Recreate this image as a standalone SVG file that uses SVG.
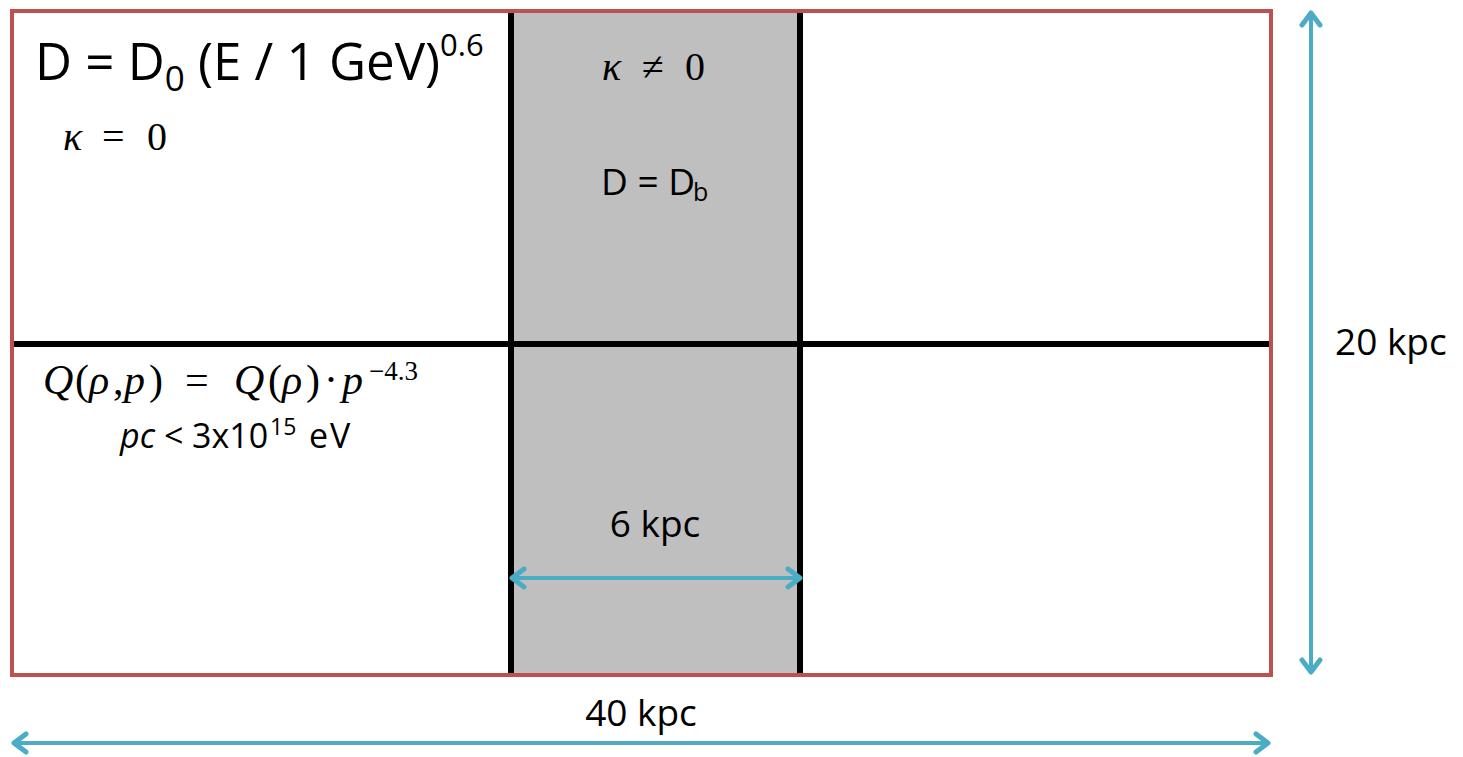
<svg xmlns="http://www.w3.org/2000/svg" width="1463" height="757" viewBox="0 0 1463 757">
<defs>
<style>
.t{font-family:"Open Sans","Liberation Sans",sans-serif;fill:#000}
.m{font-family:"Liberation Serif","DejaVu Serif",serif;fill:#000}
.div{stroke:#000;stroke-width:6;fill:none}
.dim{stroke:#4BACC6;stroke-width:4;fill:none}
</style>
<marker id="ah" viewBox="0 0 24 24" refX="21" refY="12" markerWidth="24" markerHeight="24" markerUnits="userSpaceOnUse" orient="auto-start-reverse">
<path d="M9,3 L21,12 L9,21" fill="none" stroke="#4BACC6" stroke-width="5" stroke-linecap="round" stroke-linejoin="round"/>
</marker>
</defs>
<g id="band"><rect x="511" y="11" width="289" height="664" fill="#BFBFBF"/></g>
<g id="dividers">
<line class="div" x1="12" y1="344" x2="1270" y2="344"/>
<line class="div" x1="511" y1="11" x2="511" y2="675"/>
<line class="div" x1="800" y1="11" x2="800" y2="675"/>
</g>
<g id="frame"><rect x="12" y="11" width="1259" height="664" fill="none" stroke="#C0504D" stroke-width="4"/></g>
<g id="connectors">
<line class="dim" x1="1311" y1="13" x2="1311" y2="672" marker-start="url(#ah)" marker-end="url(#ah)"/>
<line class="dim" x1="14" y1="743" x2="1268" y2="743" marker-start="url(#ah)" marker-end="url(#ah)"/>
<line class="dim" x1="512" y1="578" x2="800" y2="578" marker-start="url(#ah)" marker-end="url(#ah)"/>
</g>
<g id="labels">
<text class="t" font-size="51" x="35" y="80">D = D<tspan font-size="35" dy="11">0</tspan><tspan dy="-11"> (E / 1 GeV)</tspan><tspan font-size="31" dy="-24">0.6</tspan></text>
<text class="m" font-size="40" y="150"><tspan x="63" font-style="italic">κ</tspan><tspan x="102">=</tspan><tspan x="147">0</tspan></text>
<text class="m" font-size="40" y="80"><tspan x="602" font-style="italic">κ</tspan><tspan x="642">≠</tspan><tspan x="685">0</tspan></text>
<text class="t" font-size="37"><tspan x="601" y="195">D = D</tspan><tspan x="693" y="201" font-size="25">b</tspan></text>
<text class="m" font-size="42" y="394"><tspan x="43" font-style="italic">Q</tspan><tspan x="75">(</tspan><tspan x="89" font-style="italic">ρ</tspan><tspan x="113">,</tspan><tspan x="124" font-style="italic">p</tspan><tspan x="149">)</tspan><tspan x="185">=</tspan><tspan x="234" font-style="italic">Q</tspan><tspan x="268">(</tspan><tspan x="282" font-style="italic">ρ</tspan><tspan x="306">)</tspan><tspan x="324">·</tspan><tspan x="342" font-style="italic">p</tspan><tspan x="369" y="380" font-size="27">−4.3</tspan></text>
<text class="t" font-size="34"><tspan x="120" y="448" font-style="italic">pc</tspan><tspan x="164" y="448">&lt;</tspan><tspan x="192" y="448">3x10</tspan><tspan x="270" y="435" font-size="23">15</tspan><tspan x="309" y="448" letter-spacing="2">eV</tspan></text>
<text class="t" x="655" y="537" font-size="37" text-anchor="middle">6 kpc</text>
<text class="t" x="1335" y="355" font-size="37">20 kpc</text>
<text class="t" x="641" y="726" font-size="37" text-anchor="middle">40 kpc</text>
</g>
</svg>
